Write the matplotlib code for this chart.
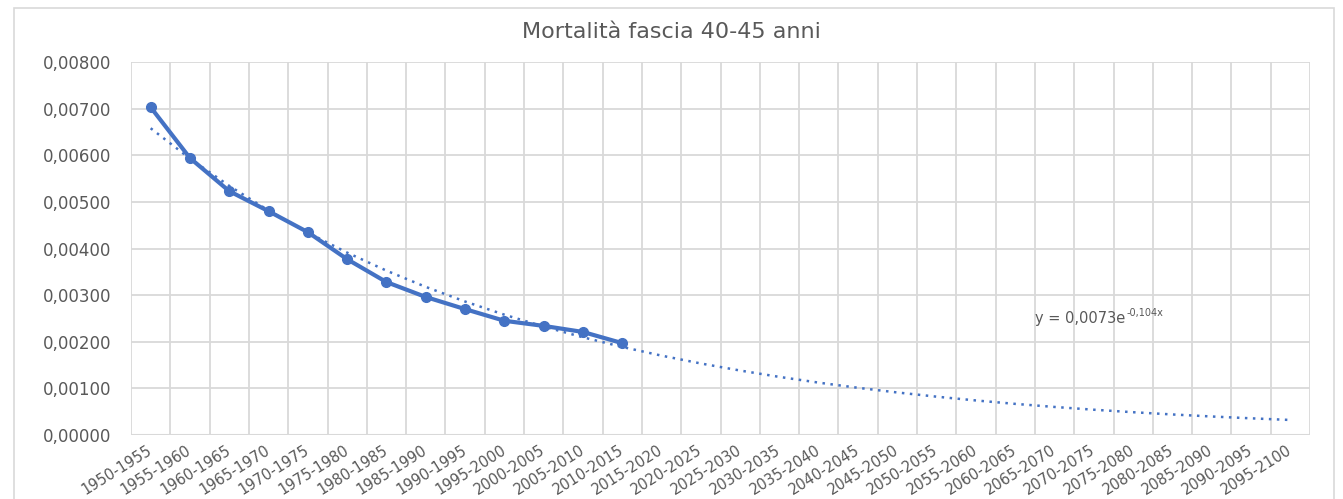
import numpy as np
import matplotlib.pyplot as plt
from matplotlib.ticker import FuncFormatter, MultipleLocator
from matplotlib.patches import Rectangle

plt.rcParams['font.family'] = ['DejaVu Sans']

BLUE = '#4472C4'
GRID = '#D9D9D9'
TXT = '#595959'

# periods on the category axis
periods = [f'{y}-{y + 5}' for y in range(1950, 2100, 5)]
# observed mortality rate, 1950-1955 .. 2010-2015
mortality = [0.00703, 0.00594, 0.00523, 0.00480, 0.00435, 0.00377, 0.00328,
             0.00296, 0.00270, 0.00245, 0.00234, 0.00221, 0.00197]
# exponential trendline as printed on the chart
TREND_A = 0.0073
TREND_B = -0.104

fig = plt.figure(figsize=(13.43, 4.99), dpi=100)
frame = Rectangle((14 / 1343, -0.02), 1320 / 1343, 1 - 8 / 499 + 0.02,
                  transform=fig.transFigure, facecolor='white',
                  edgecolor=GRID, linewidth=1.2, zorder=-5)
fig.patches.append(frame)
ax = fig.add_axes([131 / 1343, 1 - 435 / 499, 1179 / 1343, 373 / 499])
ax.set_facecolor('white')

n = len(periods)
xs = np.arange(1, n + 1)
xo = xs[:len(mortality)]

trend = TREND_A * np.exp(TREND_B * xs)
ax.plot(xs, trend, linestyle=(0, (1, 2.2)), color=BLUE, linewidth=1.8, zorder=3)
ax.plot(xo, mortality, color=BLUE, linewidth=3, marker='o', markersize=7,
        zorder=4)

ax.set_xlim(0.5, n + 0.5)
ax.set_ylim(0, 0.008)
ax.yaxis.set_major_locator(MultipleLocator(0.001))
ax.yaxis.set_major_formatter(FuncFormatter(lambda v, p: f'{v:.5f}'.replace('.', ',')))

ax.set_xticks(xs)
ax.set_xticklabels(periods, rotation=32, ha='right', va='center',
                   rotation_mode='anchor')
ax.set_xticks(np.arange(0.5, n + 1.0, 1.0), minor=True)
ax.grid(True, axis='y', color=GRID, linewidth=1.3)
ax.grid(True, axis='x', which='minor', color=GRID, linewidth=1.3)
ax.set_axisbelow(True)
ax.tick_params(axis='both', which='both', length=0, colors=TXT)
ax.tick_params(axis='x', labelsize=10.5, pad=10)
ax.tick_params(axis='y', labelsize=12, pad=14)
for s in ax.spines.values():
    s.set_visible(False)
ax.axhline(0, color=GRID, linewidth=1.5, zorder=1)

fig.text(0.5, 1 - 32 / 499, 'Mortalità fascia 40-45 anni', ha='center', va='center',
         fontsize=16, color=TXT)

ax.text(23.5, 0.0024, 'y = 0,0073e', fontsize=10.5, color=TXT, va='baseline')
ax.annotate('-0,104x', xy=(23.5, 0.0024), xytext=(66, 5), textcoords='offset points',
            fontsize=7, color=TXT, va='baseline')

fig.savefig('out.png', dpi=100, facecolor='white')
